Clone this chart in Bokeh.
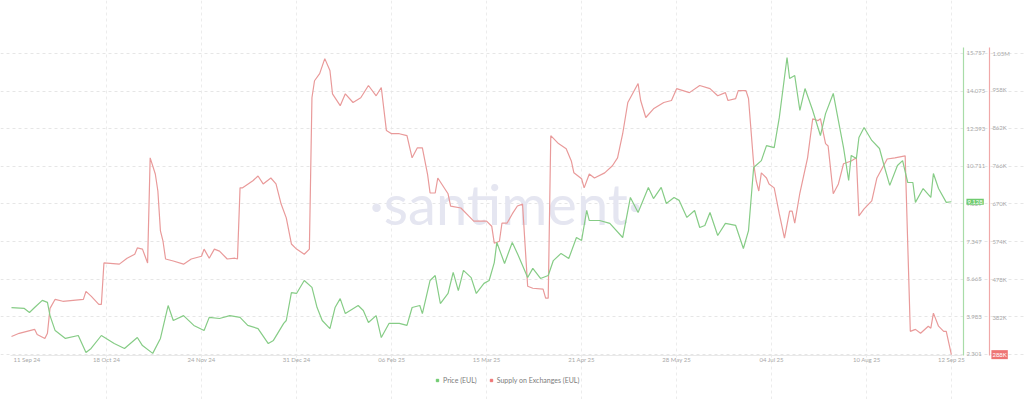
import pandas as pd
from bokeh.plotting import figure
from bokeh.models import (Range1d, LinearAxis, FixedTicker, Label, Legend, LegendItem,
                          NumeralTickFormatter, DatetimeTickFormatter)
from bokeh.embed import file_html
from bokeh.resources import INLINE

# ---------------- data ----------------
start_date = "2024-09-11"

price_days = [0, 5, 7, 9, 12, 14, 15, 17, 21, 26,
              29, 31, 35, 40, 44, 49, 51, 55, 58, 59,
              61, 63, 67, 71, 75, 77, 81, 85, 89, 92,
              96, 100, 102, 106, 107, 109, 111, 114, 117, 119,
              121, 124, 126, 128, 130, 135, 137, 139, 142, 144,
              147, 151, 154, 156, 159, 160, 163, 165, 167, 170,
              172, 174, 176, 179, 181, 184, 186, 188, 189, 192,
              195, 197, 201, 203, 206, 209, 211, 214, 217, 220,
              222, 224, 225, 229, 233, 238, 241, 244, 248, 250,
              253, 255, 258, 260, 263, 266, 268, 270, 272, 275,
              278, 282, 285, 287, 289, 292, 294, 297, 299, 302,
              303, 305, 307, 309, 312, 315, 317, 320, 322, 324,
              326, 327, 329, 330, 332, 335, 338, 340, 342, 345,
              347, 349, 351, 352, 355, 358, 359, 361, 364, 366]
price_values = [4.40, 4.36, 4.18, 4.40, 4.72, 4.63, 4.04, 3.37, 3.02, 3.15,
                2.39, 2.57, 3.15, 2.79, 2.57, 3.06, 2.70, 2.35, 3.02, 3.51,
                4.49, 3.82, 4.04, 3.60, 3.37, 3.96, 3.91, 4.04, 3.96, 3.60,
                3.46, 2.79, 2.93, 3.69, 3.82, 5.07, 5.03, 5.61, 5.30, 4.40,
                3.82, 3.46, 4.40, 4.80, 4.13, 4.49, 4.27, 3.73, 4.04, 3.06,
                3.69, 3.69, 3.60, 4.40, 4.49, 4.13, 5.61, 5.83, 4.58, 5.03,
                5.97, 5.16, 6.06, 5.74, 5.03, 5.48, 5.61, 6.41, 7.31, 6.37,
                7.31, 6.82, 5.74, 6.15, 5.70, 5.83, 6.50, 6.82, 6.59, 7.53,
                7.40, 8.74, 8.29, 8.29, 8.16, 7.53, 9.32, 8.65, 9.77, 9.27,
                9.77, 9.05, 9.32, 9.19, 8.43, 8.74, 7.98, 8.07, 8.65, 7.62,
                8.16, 8.07, 7.04, 7.84, 10.66, 10.97, 11.64, 11.55, 12.90, 15.58,
                14.64, 14.77, 13.21, 14.19, 13.21, 12.09, 13.07, 13.97, 12.76, 11.55,
                10.08, 11.20, 11.06, 12.00, 12.45, 11.87, 11.51, 10.66, 9.86, 10.75,
                10.97, 9.99, 9.99, 9.10, 9.72, 9.32, 10.39, 9.72, 9.10, 9.128]

supply_days = [0, 3, 9, 10, 13, 14, 15, 17, 20, 28,
               29, 31, 34, 35, 36, 42, 45, 48, 49, 51,
               53, 54, 56, 57, 58, 59, 60, 63, 67, 70,
               74, 75, 77, 79, 81, 84, 87, 88, 89, 90,
               94, 96, 98, 101, 103, 105, 107, 109, 111, 114,
               116, 117, 118, 120, 122, 124, 125, 128, 130, 133,
               136, 139, 142, 144, 146, 148, 151, 154, 156, 158,
               160, 162, 163, 165, 166, 170, 171, 175, 178, 180,
               185, 187, 188, 190, 191, 193, 195, 197, 199, 201,
               203, 207, 208, 209, 210, 213, 216, 218, 219, 222,
               223, 225, 227, 231, 234, 236, 238, 240, 244, 245,
               247, 250, 254, 257, 259, 264, 268, 272, 275, 278,
               279, 282, 283, 286, 287, 289, 290, 291, 292, 294,
               295, 297, 299, 301, 303, 304, 305, 307, 310, 312,
               314, 315, 317, 318, 320, 322, 324, 327, 329, 330,
               332, 335, 337, 341, 344, 348, 350, 352, 354, 357,
               358, 359, 361, 363, 364, 366]
supply_k = [334, 342, 352, 339, 329, 342, 405, 428, 423, 428,
            448, 436, 415, 415, 520, 517, 532, 542, 558, 555,
            520, 786, 745, 702, 601, 575, 530, 525, 517, 530,
            537, 555, 532, 555, 550, 530, 532, 530, 710, 710,
            728, 740, 720, 735, 720, 669, 634, 568, 555, 542,
            555, 938, 981, 999, 1037, 1007, 948, 918, 948, 926,
            938, 969, 943, 964, 855, 847, 847, 842, 786, 811,
            811, 745, 697, 697, 735, 695, 664, 659, 639, 626,
            626, 613, 570, 575, 621, 621, 644, 664, 669, 461,
            456, 454, 431, 431, 842, 822, 809, 778, 748, 733,
            710, 745, 735, 748, 766, 786, 847, 926, 974, 931,
            888, 910, 926, 931, 961, 951, 969, 961, 943, 951,
            931, 936, 956, 956, 936, 771, 728, 702, 748, 735,
            720, 710, 644, 583, 651, 651, 621, 697, 786, 885,
            880, 885, 822, 816, 695, 720, 771, 778, 786, 639,
            657, 677, 735, 783, 786, 791, 347, 352, 342, 360,
            355, 393, 360, 347, 347, 288]

date_ticks = ["2024-09-11", "2024-10-18", "2024-11-24", "2024-12-31", "2025-02-06",
              "2025-03-15", "2025-04-21", "2025-05-28", "2025-07-04", "2025-08-10",
              "2025-09-12"]
price_ticks = [2.301, 3.983, 5.665, 7.347, 9.029, 10.711, 12.393, 14.075, 15.757]
supply_ticks = [382, 478, 574, 670, 766, 862, 958, 1050]
supply_tick_labels = ["382K", "478K", "574K", "670K", "766K", "862K", "958K", "1.05M"]
series_names = ["Price (EUL)", "Supply on Exchanges (EUL)"]
price_badge = "9.128"
supply_badge = "288K"

# ---------------- styling ----------------
GREEN = "#86cc86"
RED = "#e99a9a"
GREEN_AXIS = "#a8dca8"
RED_AXIS = "#f0a8a8"
GREEN_BADGE = "#6fcb6f"
RED_BADGE = "#ee7474"
LABEL_C = "#a9a9a9"
FONT = "Lato"

t0 = pd.Timestamp(start_date)
day = pd.Timedelta(days=1)
px = t0 + pd.to_timedelta(price_days, unit="D")
sx = t0 + pd.to_timedelta(supply_days, unit="D")


def ms(offset_days):
    """epoch milliseconds of start_date + offset (layout helper)"""
    return (t0 + offset_days * day).value / 1e6


# whole canvas is the frame; axes are pinned with fixed_location
x_left, x_right = ms(-4.28), ms(394.47)
plot_x0, plot_x1 = ms(-0.39), ms(370.3)        # plotting-area edges
green_axis_x = ms(370.7)
red_axis_x = ms(380.8)
p_lo, p_hi = 2.256, 16.025                     # price extent of plotting area
s_lo, s_hi = 285.9, 1065.2                     # supply extent of plotting area

p = figure(width=1024, height=399, x_axis_type="datetime", y_axis_location="right",
           output_backend="svg", toolbar_location=None,
           x_range=Range1d(x_left, x_right),
           y_range=Range1d(0.289, 18.126),
           min_border_left=0, min_border_right=0, min_border_top=0, min_border_bottom=0)
p.outline_line_color = None
p.extra_y_ranges = {"supply": Range1d(174.5, 1184.1)}

# x axis
tick_ms = [pd.Timestamp(d).value / 1e6 for d in date_ticks]
xa = p.xaxis[0]
xa.fixed_location = p_lo
xa.bounds = (plot_x0, plot_x1)
xa.ticker = FixedTicker(ticks=tick_ms[1:])
xa.formatter = DatetimeTickFormatter(days="%d %b %y", months="%d %b %y", years="%d %b %y")
xa.axis_line_color = "#e9e9e9"
xa.major_tick_line_color = None
xa.minor_tick_line_color = None
xa.major_tick_out = 0
xa.major_tick_in = 0
xa.major_label_standoff = 1
xa.major_label_text_font_size = "6px"
xa.major_label_text_color = LABEL_C
xa.major_label_text_font = FONT

p.xgrid.grid_line_color = "#ececec"
p.xgrid.grid_line_dash = "3 3"
p.xgrid.bounds = (p_lo, p_hi)
p.ygrid.grid_line_color = "#e6e6e6"
p.ygrid.grid_line_dash = "3 3"
p.ygrid.bounds = (plot_x0, plot_x1)

# price axis
ya = p.yaxis[0]
ya.fixed_location = green_axis_x
ya.bounds = (p_lo, p_hi)
ya.ticker = FixedTicker(ticks=price_ticks)
ya.formatter = NumeralTickFormatter(format="0.000")
ya.axis_line_color = GREEN_AXIS
ya.axis_line_width = 1.2
ya.major_tick_line_color = None
ya.minor_tick_line_color = None
ya.major_tick_out = 0
ya.major_tick_in = 0
ya.major_label_standoff = 3
ya.major_label_text_font_size = "6px"
ya.major_label_text_color = LABEL_C
ya.major_label_text_font = FONT

# supply axis
ra = LinearAxis(y_range_name="supply", ticker=FixedTicker(ticks=supply_ticks),
                fixed_location=red_axis_x, bounds=(s_lo, s_hi),
                major_label_overrides=dict(zip(supply_ticks, supply_tick_labels)),
                axis_line_color=RED_AXIS, axis_line_width=1.2,
                major_tick_line_color=None, minor_tick_line_color=None,
                major_tick_out=0, major_tick_in=0, major_label_standoff=3,
                major_label_text_font_size="6px", major_label_text_color=LABEL_C,
                major_label_text_font=FONT)
p.add_layout(ra, "right")

# watermark
wm = Label(x=ms(192.5), y=9.05, text="\u00b7santiment\u00b7", text_align="center",
           text_baseline="middle", text_font_size="56px", text_color="#e5e6f1",
           text_font=FONT, level="underlay")
p.add_layout(wm)

# series
r_supply = p.line(sx, supply_k, y_range_name="supply", line_color=RED, line_width=1.2)
r_price = p.line(px, price_values, line_color=GREEN, line_width=1.2)

# first date label (left aligned, as in the reference)
first_lbl = Label(x=tick_ms[0], y=p_lo, text=pd.Timestamp(date_ticks[0]).strftime("%d %b %y"),
                  text_align="left", text_baseline="top", x_offset=2, y_offset=-1,
                  text_font_size="6px", text_color=LABEL_C, text_font=FONT)
p.add_layout(first_lbl)

# last-value badges
gb = Label(x=green_axis_x, y=price_values[-1], text=price_badge, text_align="left",
           text_baseline="middle", x_offset=3, text_font_size="6px", text_color="white",
           text_font=FONT, background_fill_color=GREEN_BADGE, padding=1)
p.add_layout(gb)
rb = Label(x=red_axis_x, y=supply_k[-1], y_range_name="supply", text=supply_badge,
           text_align="left", text_baseline="middle", x_offset=2, text_font_size="6px",
           text_color="white", text_font=FONT, background_fill_color=RED_BADGE, padding=1)
p.add_layout(rb)

# legend (square swatches, hidden renderers on the series' last points)
lg = p.scatter([px[-1]], [price_values[-1]], marker="square", size=5, color=GREEN_BADGE,
               visible=False)
lr = p.scatter([sx[-1]], [supply_k[-1]], y_range_name="supply", marker="square", size=5,
               color=RED_BADGE, visible=False)
legend = Legend(items=[LegendItem(label=series_names[0], renderers=[lg]),
                       LegendItem(label=series_names[1], renderers=[lr])],
                orientation="horizontal", location=(434, 15),
                glyph_width=6, glyph_height=6, label_height=9, label_standoff=3, spacing=11,
                padding=0, margin=0, border_line_color=None, background_fill_alpha=0,
                label_text_font_size="7px", label_text_color="#7c7c7c", label_text_font=FONT)
p.add_layout(legend)

open("out.html", "w").write(file_html(p, INLINE))
